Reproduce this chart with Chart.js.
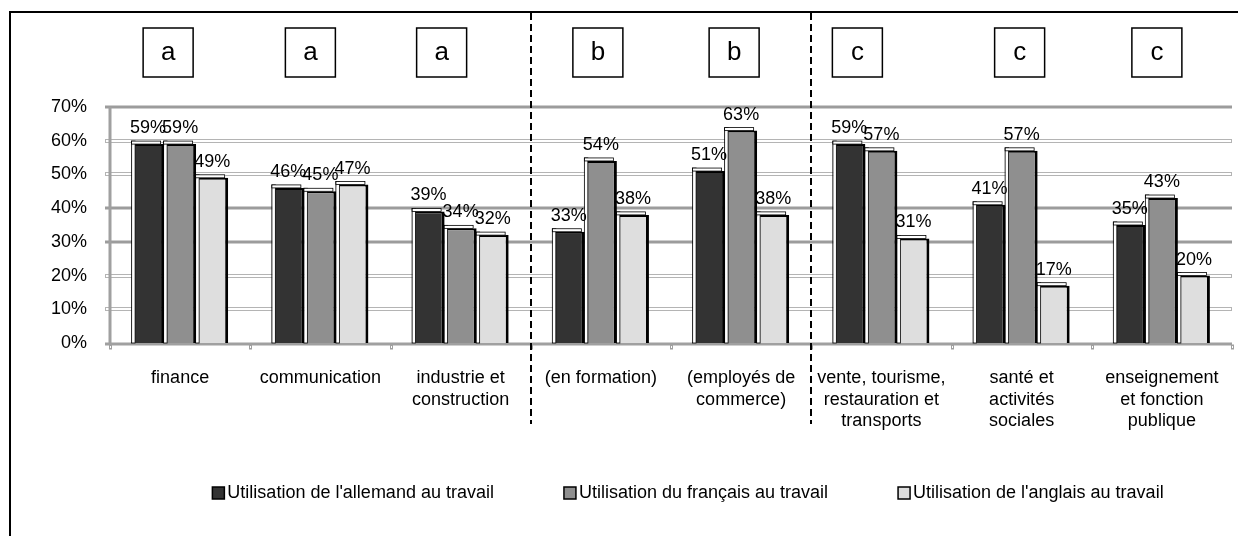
<!DOCTYPE html>
<html>
<head>
<meta charset="utf-8">
<script src="https://cdn.jsdelivr.net/npm/chart.js@4.4.1/dist/chart.umd.min.js"></script>
<style>
  html, body { margin: 0; padding: 0; background: #fff; }
  #wrap { width: 1238px; height: 536px; position: relative; }
</style>
</head>
<body>
<div id="wrap"><canvas id="usageChart"></canvas></div>
<script>
// sectors and language-use shares (%)
const sectors = [
  'finance',
  'communication',
  ['industrie et', 'construction'],
  '(en formation)',
  ['(employés de', 'commerce)'],
  ['vente, tourisme,', 'restauration et', 'transports'],
  ['santé et', 'activités', 'sociales'],
  ['enseignement', 'et fonction', 'publique']
];
const groupLetters = ['a', 'a', 'a', 'b', 'b', 'c', 'c', 'c'];
const allemand = [59, 46, 39, 33, 51, 59, 41, 35];
const francais = [59, 45, 34, 54, 63, 57, 57, 43];
const anglais = [49, 47, 32, 38, 38, 31, 17, 20];
const seriesNames = [
  "Utilisation de l'allemand au travail",
  'Utilisation du français au travail',
  "Utilisation de l'anglais au travail"
];
const yTicks = [0, 10, 20, 30, 40, 50, 60, 70];
// group separators sit after these category indexes
const groupBreaks = [2, 4];

const FONT = "'Liberation Sans', Arial, sans-serif";
const seriesColors = ['#333333', '#8f8f8f', '#dedede'];

// frame, gridlines, axes, separators, group boxes, value labels, legend
const decorations = {
  id: 'decorations',
  beforeDatasetsDraw(chart) {
    const { ctx, chartArea: a, scales: { y } } = chart;
    const heavy = [30, 40, 70];
    ctx.save();
    // outer frame (top and left edges only)
    ctx.strokeStyle = '#000';
    ctx.lineWidth = 2;
    ctx.beginPath();
    ctx.moveTo(10, 536);
    ctx.lineTo(10, 12);
    ctx.lineTo(1238, 12);
    ctx.stroke();

    yTicks.forEach(v => {
      if (v === 0) return;
      const py = Math.round(y.getPixelForValue(v));
      if (heavy.includes(v)) {
        ctx.strokeStyle = '#9c9c9c';
        ctx.lineWidth = 3;
        ctx.beginPath();
        ctx.moveTo(105, py);
        ctx.lineTo(a.right, py);
        ctx.stroke();
      } else {
        ctx.fillStyle = '#fff';
        ctx.strokeStyle = '#b4b4b4';
        ctx.lineWidth = 1;
        ctx.fillRect(105, py - 1.5, a.right - 105, 3);
        ctx.strokeRect(105.5, py - 1.5, a.right - 106, 3);
      }
    });

    // wall and floor edges
    ctx.strokeStyle = '#a0a0a0';
    ctx.lineWidth = 3;
    ctx.beginPath();
    ctx.moveTo(a.left, a.top);
    ctx.lineTo(a.left, a.bottom + 1);
    ctx.moveTo(105, a.bottom + 1);
    ctx.lineTo(a.right, a.bottom + 1);
    ctx.stroke();

    // small tick marks between categories
    ctx.lineWidth = 1;
    for (let i = 0; i <= sectors.length; i++) {
      const px = Math.round(a.left + (a.right - a.left) * i / sectors.length) + 0.5;
      ctx.strokeRect(px - 1, a.bottom + 2, 2, 4);
    }
    ctx.restore();
  },
  afterDatasetsDraw(chart) {
    const { ctx, scales: { x } } = chart;
    ctx.save();

    // light bevel on the left side and top of each bar
    chart.data.datasets.forEach((ds, di) => {
      chart.getDatasetMeta(di).data.forEach(bar => {
        const left = bar.x - bar.width / 2;
        ctx.fillStyle = '#fff';
        ctx.strokeStyle = '#000';
        ctx.lineWidth = 0.8;
        ctx.fillRect(left, bar.y - 3, 3, bar.base - bar.y + 3);
        ctx.strokeRect(left - 0.5, bar.y - 3, 3.5, bar.base - bar.y + 3);
        ctx.fillRect(left, bar.y - 3, bar.width - 3, 3);
        ctx.strokeRect(left - 0.5, bar.y - 3, bar.width - 3, 3);
      });
    });

    // value labels above the bars
    ctx.font = `18px ${FONT}`;
    ctx.fillStyle = '#000';
    ctx.textAlign = 'center';
    ctx.textBaseline = 'bottom';
    chart.data.datasets.forEach((ds, di) => {
      chart.getDatasetMeta(di).data.forEach((bar, i) => {
        ctx.fillText(ds.data[i] + '%', bar.x, bar.y - 7);
      });
    });

    // dashed separators between groups
    ctx.strokeStyle = '#000';
    ctx.lineWidth = 2;
    ctx.setLineDash([7, 4]);
    groupBreaks.forEach(i => {
      const px = Math.round((x.getPixelForValue(i) + x.getPixelForValue(i + 1)) / 2);
      ctx.beginPath();
      ctx.moveTo(px, 13);
      ctx.lineTo(px, 424);
      ctx.stroke();
    });
    ctx.setLineDash([]);

    // group letter boxes
    const nudge = [-12, -10, -19, -3, -7, -24, -2, -5];
    ctx.lineWidth = 1.5;
    ctx.font = `26px ${FONT}`;
    ctx.textBaseline = 'middle';
    groupLetters.forEach((g, i) => {
      const cx = x.getPixelForValue(i) + nudge[i];
      ctx.fillStyle = '#fff';
      ctx.fillRect(cx - 25, 28, 50, 49);
      ctx.strokeRect(cx - 25, 28, 50, 49);
      ctx.fillStyle = '#000';
      ctx.fillText(g, cx, 53);
    });

    // legend
    ctx.font = `18px ${FONT}`;
    ctx.textAlign = 'left';
    const gap = 70, box = 12;
    const widths = seriesNames.map(n => box + 3 + ctx.measureText(n).width);
    const total = widths.reduce((s, w) => s + w, 0) + gap * (widths.length - 1);
    let lx = 688 - total / 2;
    const ly = 493;
    seriesNames.forEach((n, i) => {
      ctx.fillStyle = seriesColors[i];
      ctx.fillRect(lx, ly - 6, box, box);
      ctx.strokeStyle = '#000';
      ctx.lineWidth = 1.5;
      ctx.strokeRect(lx, ly - 6, box, box);
      ctx.fillStyle = '#000';
      ctx.fillText(n, lx + box + 3, ly);
      lx += widths[i] + gap;
    });
    ctx.restore();
  }
};

const barBorder = { top: 2, right: 3, left: 0, bottom: 0 };

new Chart(document.getElementById('usageChart'), {
  type: 'bar',
  data: {
    labels: sectors,
    datasets: [
      { label: seriesNames[0], data: allemand, backgroundColor: seriesColors[0], borderColor: '#000', borderWidth: barBorder },
      { label: seriesNames[1], data: francais, backgroundColor: seriesColors[1], borderColor: '#000', borderWidth: barBorder },
      { label: seriesNames[2], data: anglais, backgroundColor: seriesColors[2], borderColor: '#000', borderWidth: barBorder }
    ]
  },
  options: {
    responsive: true,
    maintainAspectRatio: false,
    animation: false,
    layout: { padding: { left: 0, top: 107, right: 6, bottom: 0 } },
    datasets: {
      bar: { categoryPercentage: 0.685, barPercentage: 1 }
    },
    plugins: {
      legend: { display: false },
      tooltip: { enabled: false }
    },
    scales: {
      x: {
        grid: { display: false },
        border: { display: false },
        ticks: {
          color: '#000',
          padding: 17,
          maxRotation: 0,
          autoSkip: false,
          font: { family: FONT, size: 18, lineHeight: 1.17 }
        },
        afterFit(scale) { scale.height = 193; }
      },
      y: {
        min: 0,
        max: 70,
        grid: { display: false },
        border: { display: false },
        afterBuildTicks(scale) { scale.ticks = yTicks.map(v => ({ value: v })); },
        ticks: {
          color: '#000',
          padding: 15,
          font: { family: FONT, size: 18 },
          callback: v => v + '%'
        },
        afterFit(scale) { scale.width = 110; }
      }
    }
  },
  plugins: [decorations]
});
</script>
</body>
</html>
